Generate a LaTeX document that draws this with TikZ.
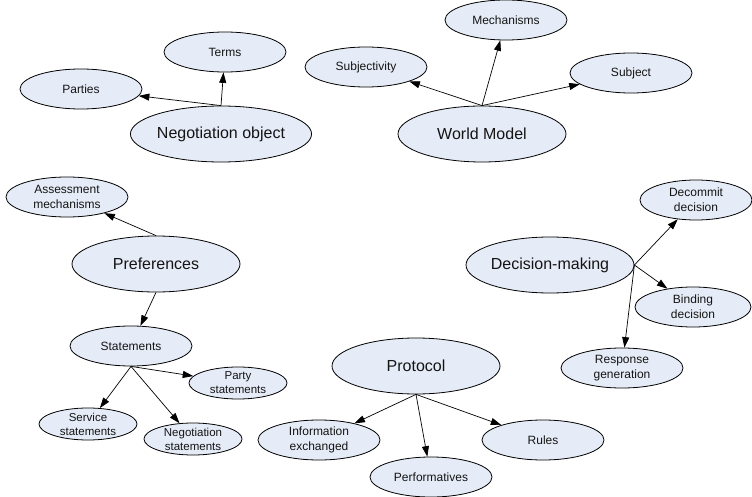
\documentclass[tikz,border=0pt]{standalone}
\usepackage{fontspec}
\setmainfont{Liberation Sans}
\usetikzlibrary{shapes.geometric,arrows.meta}
\definecolor{ellfill}{RGB}{230,236,247}
\definecolor{txt}{RGB}{20,20,20}
\tikzset{
  base/.style={ellipse, draw=black, line width=0.8pt, fill=ellfill, inner sep=0pt, text=txt, align=center},
  big/.style={base, minimum width=168pt, minimum height=56pt, font=\fontsize{16}{18}\selectfont},
  mid/.style={base, minimum width=122pt, minimum height=40pt, font=\fontsize{12}{15}\selectfont},
  sml/.style={base, minimum width=98pt, minimum height=32pt, font=\fontsize{11.5}{14}\selectfont},
  conn/.style={line width=0.7pt, -{Triangle[length=10.5pt,width=7pt]}}
}
\begin{document}
\begin{tikzpicture}[x=1pt,y=-1pt]
\useasboundingbox (0,0) rectangle (752,497);
% Negotiation object
\node[big] (neg) at (221,134) {Negotiation object};
\node[mid] (terms) at (225,52) {Terms};
\node[mid] (parties) at (81,89) {Parties};
\draw[conn] (neg.north) -- (terms);
\draw[conn] (neg.north) -- (parties);
% World model
\node[big] (world) at (482,134) {World Model};
\node[mid] (mech) at (506,20) {Mechanisms};
\node[mid] (subj) at (366,67) {Subjectivity};
\node[mid] (subject) at (631,73) {Subject};
\draw[conn] (world.north) -- (mech);
\draw[conn] (world.north) -- (subj);
\draw[conn] (world.north) -- (subject);
% Preferences
\node[big] (pref) at (156,264) {Preferences};
\node[mid] (assess) at (67,197) {Assessment\\mechanisms};
\node[mid] (stat) at (131,346) {Statements};
\draw[conn] (pref.north) -- (assess);
\draw[conn] (pref.south) -- (stat);
\node[sml] (party) at (238,383) {Party\\statements};
\node[sml] (serv) at (88,424) {Service\\statements};
\node[sml] (negst) at (193,439) {Negotiation\\statements};
\draw[conn] (stat.south) -- (party);
\draw[conn] (stat.south) -- (serv);
\draw[conn] (stat.south) -- (negst);
% Decision-making
\node[big] (dec) at (550,265) {Decision-making};
\node[mid, minimum width=112pt] (decommit) at (696,200) {Decommit\\decision};
\node[mid, minimum width=116pt] (bind) at (693,307) {Binding\\decision};
\node[mid] (resp) at (622,368) {Response\\generation};
\draw[conn] (dec.east) -- (decommit);
\draw[conn] (dec.east) -- (bind);
\draw[conn] (dec.east) -- (resp);
% Protocol
\node[big] (prot) at (416,366) {Protocol};
\node[mid] (info) at (319,440) {Information\\exchanged};
\node[mid] (perf) at (431,477) {Performatives};
\node[mid] (rules) at (543,440) {Rules};
\draw[conn] (prot.south) -- (info);
\draw[conn] (prot.south) -- (perf);
\draw[conn] (prot.south) -- (rules);
\end{tikzpicture}
\end{document}
